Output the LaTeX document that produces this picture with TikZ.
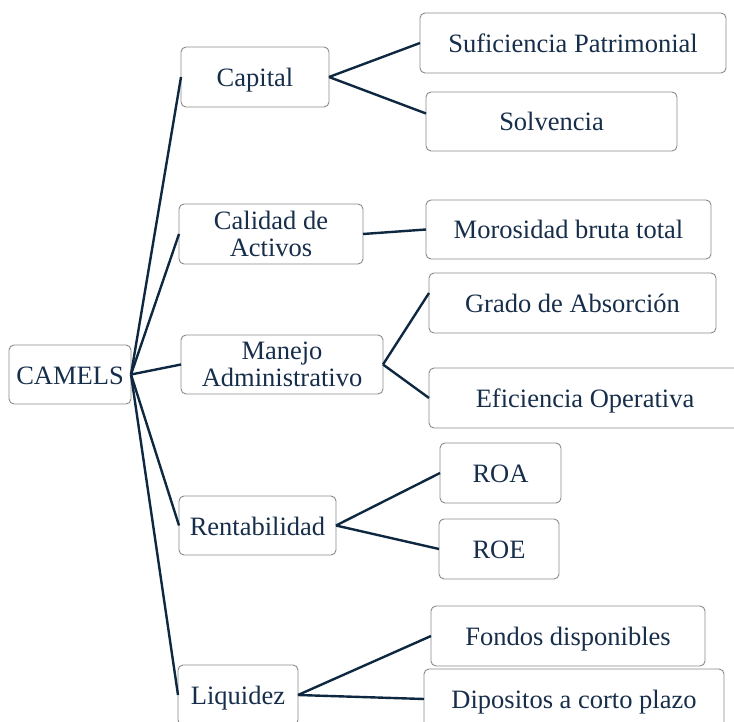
\documentclass[tikz,border=0pt]{standalone}
\usepackage{fontspec}
\setmainfont{Liberation Serif}
\definecolor{navy}{HTML}{0E2841}
\definecolor{txt}{HTML}{172E4B}
\definecolor{frame}{HTML}{8A8A8A}
\begin{document}
\begin{tikzpicture}[x=1pt,y=-1pt,
  box/.style={draw=frame, line width=0.9pt, rounded corners=5pt, fill=white,
    text=txt, font=\fontsize{26.5}{27}\selectfont, align=center,
    inner sep=0pt, outer sep=0pt, anchor=center},
  one/.style={box, text height=24pt, text depth=5pt},
  link/.style={draw=navy, line width=2.4pt}]
\useasboundingbox (0,0) rectangle (734,722);
\clip (0,0) rectangle (734,722);
% level 0
\node[one, minimum width=122pt, minimum height=59pt] (camels) at (70,374.5) {CAMELS};
% level 1
\node[one, minimum width=148pt, minimum height=60pt] (capital) at (255,77) {Capital};
\node[box, minimum width=184pt, minimum height=60pt] (calidad) at (271,234) {Calidad de\\Activos};
\node[box, minimum width=202pt, minimum height=59pt] (manejo) at (282,364.5) {Manejo\\Administrativo};
\node[one, minimum width=157pt, minimum height=59pt] (rent) at (257.5,525.5) {Rentabilidad};
\node[one, minimum width=120pt, minimum height=60pt] (liq) at (238,695) {Liquidez};
% level 2
\node[one, minimum width=306pt, minimum height=60pt] (suf) at (573,43) {Suficiencia Patrimonial};
\node[one, minimum width=251pt, minimum height=59pt] (solv) at (551.5,121.5) {Solvencia};
\node[one, minimum width=285pt, minimum height=59pt] (moro) at (568.5,229.5) {Morosidad bruta total};
\node[one, minimum width=287pt, minimum height=60pt] (grado) at (572.5,303) {Grado de Absorción};
\node[one, minimum width=312pt, minimum height=60pt] (efic) at (585,398) {Eficiencia Operativa};
\node[one, minimum width=121pt, minimum height=60pt] (roa) at (500.5,473) {ROA};
\node[one, minimum width=120pt, minimum height=60pt] (roe) at (499,549) {ROE};
\node[one, minimum width=274pt, minimum height=60pt] (fondos) at (568,636) {Fondos disponibles};
\node[one, minimum width=300pt, minimum height=60pt] (dep) at (574,699) {Dipositos a corto plazo};
% connectors
\foreach \t in {capital,calidad,manejo,rent,liq}
  \draw[link] (camels.east) -- (\t.west);
\draw[link] (capital.east) -- (suf.west);
\draw[link] (capital.east) -- ([yshift=8pt]solv.west);
\draw[link] (calidad.east) -- (moro.west);
\draw[link] (manejo.east) -- ([yshift=10pt]grado.west);
\draw[link] (manejo.east) -- (efic.west);
\draw[link] (rent.east) -- (roa.west);
\draw[link] (rent.east) -- (roe.west);
\draw[link] (liq.east) -- (fondos.west);
\draw[link] (liq.east) -- (dep.west);
\end{tikzpicture}
\end{document}
